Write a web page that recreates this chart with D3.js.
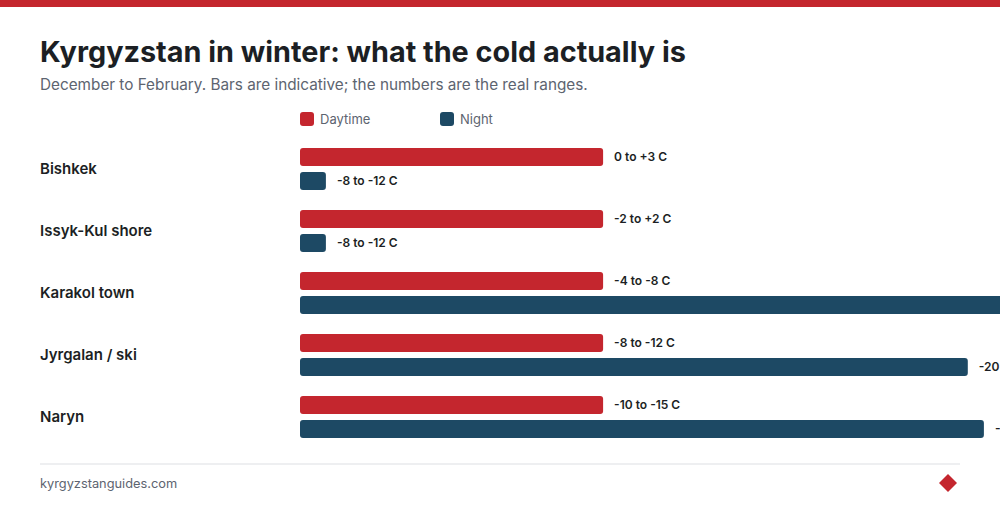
<!DOCTYPE html>
<html>
<head>
<meta charset="utf-8">
<script src="https://cdn.jsdelivr.net/npm/d3@7"></script>
<style>
  html, body { margin: 0; padding: 0; background: #fff; overflow: hidden; }
  svg { display: block; font-family: Inter, "Noto Sans", sans-serif; }
</style>
</head>
<body>
<div id="chart"></div>
<script>
// places, top to bottom
const places = ['Bishkek', 'Issyk-Kul shore', 'Karakol town', 'Jyrgalan / ski', 'Naryn'];
// indicative bar lengths (0-100 scale)
const dayValues = [43.3, 43.3, 43.3, 43.3, 43.3];
const nightValues = [3.7, 3.7, 104, 95.4, 97.7];
// real ranges, printed beside the bars
const dayLabels = ['0 to +3 C', '-2 to +2 C', '-4 to -8 C', '-8 to -12 C', '-10 to -15 C'];
const nightLabels = ['-8 to -12 C', '-8 to -12 C', '-15 to -20 C', '-20 to -25 C', '-25 to -30 C'];
const seriesNames = ['Daytime', 'Night'];

const RED = '#c4262e';
const BLUE = '#1d4964';

const width = 1000, height = 510;

const svg = d3.select('#chart').append('svg')
    .attr('width', width)
    .attr('height', height);

// top accent band
svg.append('rect')
    .attr('x', 0).attr('y', 0)
    .attr('width', width).attr('height', 7)
    .attr('fill', RED);

svg.append('text')
    .attr('x', 40).attr('y', 62)
    .attr('font-size', 28.8).attr('font-weight', 700)
    .attr('fill', '#1c1f24')
    .text('Kyrgyzstan in winter: what the cold actually is');

svg.append('text')
    .attr('x', 40).attr('y', 90)
    .attr('font-size', 15.3)
    .attr('fill', '#5d6470')
    .text('December to February. Bars are indicative; the numbers are the real ranges.');

// legend
const legend = svg.append('g');
seriesNames.forEach((name, i) => {
    const g = legend.append('g').attr('transform', `translate(${300 + i * 140},112)`);
    g.append('rect')
        .attr('width', 14).attr('height', 14).attr('rx', 3)
        .attr('fill', i === 0 ? RED : BLUE);
    g.append('text')
        .attr('x', 20).attr('y', 12)
        .attr('font-size', 13)
        .attr('fill', '#5d6470')
        .text(name);
});

const x = d3.scaleLinear().domain([0, 100]).range([0, 700]);
const y = d3.scaleBand().domain(places).range([148, 458]).paddingInner(0).paddingOuter(0);

const barH = 18;
const rows = svg.append('g')
    .selectAll('g')
    .data(places)
    .enter().append('g')
    .attr('transform', d => `translate(0,${y(d)})`);

rows.append('text')
    .attr('x', 40).attr('y', 21)
    .attr('dy', '0.35em')
    .attr('font-size', 15).attr('font-weight', 600)
    .attr('fill', '#1c1f24')
    .text(d => d);

rows.append('rect')
    .attr('x', 300).attr('y', 0)
    .attr('width', (d, i) => x(dayValues[i]))
    .attr('height', barH).attr('rx', 3)
    .attr('fill', RED);

rows.append('text')
    .attr('x', (d, i) => 300 + x(dayValues[i]) + 11)
    .attr('y', barH / 2).attr('dy', '0.35em')
    .attr('font-size', 12).attr('font-weight', 600)
    .attr('fill', '#1c1f24')
    .text((d, i) => dayLabels[i]);

rows.append('rect')
    .attr('x', 300).attr('y', 24)
    .attr('width', (d, i) => x(nightValues[i]))
    .attr('height', barH).attr('rx', 3)
    .attr('fill', BLUE);

rows.append('text')
    .attr('x', (d, i) => 300 + x(nightValues[i]) + 11)
    .attr('y', 24 + barH / 2).attr('dy', '0.35em')
    .attr('font-size', 12).attr('font-weight', 600)
    .attr('fill', '#1c1f24')
    .text((d, i) => nightLabels[i]);

// footer
svg.append('line')
    .attr('x1', 40).attr('x2', 960)
    .attr('y1', 464).attr('y2', 464)
    .attr('stroke', '#eeeff1').attr('stroke-width', 2);

svg.append('text')
    .attr('x', 40).attr('y', 488)
    .attr('font-size', 12.8)
    .attr('fill', '#5d6470')
    .text('kyrgyzstanguides.com');

svg.append('path')
    .attr('d', 'M948,474 L957,483 L948,492 L939,483 Z')
    .attr('fill', RED);
</script>
</body>
</html>
